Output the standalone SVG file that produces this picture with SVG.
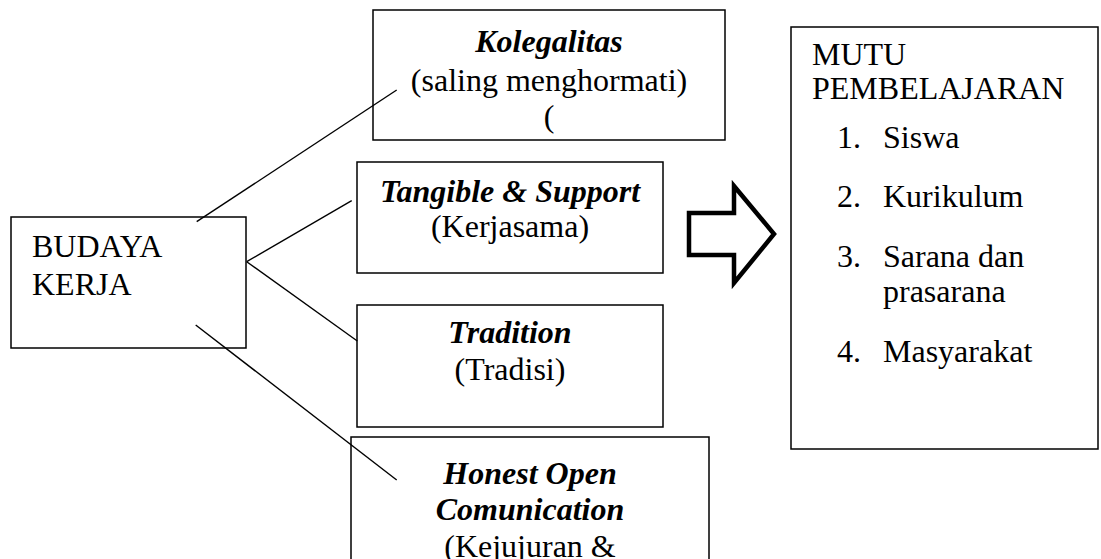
<svg xmlns="http://www.w3.org/2000/svg" width="1101" height="559" viewBox="0 0 1101 559">
<style>
.box{fill:#fff;stroke:#000;stroke-width:1.5}
.t{font-family:"Liberation Serif","Times New Roman",serif;font-size:32px;fill:#000}
.c{text-anchor:middle}
.bi{font-weight:bold;font-style:italic}
.ln{stroke:#000;stroke-width:1.4;fill:none}
</style>
<rect width="1101" height="559" fill="#fff"/>
<g id="budaya">
<rect class="box" x="11" y="217" width="235" height="131"/>
<text class="t" x="32" y="257">BUDAYA</text>
<text class="t" x="32" y="295">KERJA</text>
</g>
<g id="kolegalitas">
<rect class="box" x="373" y="10" width="352" height="130"/>
<text class="t c bi" x="549" y="52">Kolegalitas</text>
<text class="t c" x="549" y="91">(saling menghormati)</text>
<text class="t c" x="549" y="127">(</text>
</g>
<g id="tangible">
<rect class="box" x="357" y="162" width="306" height="111"/>
<text class="t c bi" x="510" y="202">Tangible &amp; Support</text>
<text class="t c" x="510" y="237">(Kerjasama)</text>
</g>
<g id="tradition">
<rect class="box" x="357" y="305" width="306" height="122"/>
<text class="t c bi" x="510" y="343">Tradition</text>
<text class="t c" x="510" y="380">(Tradisi)</text>
</g>
<g id="honest">
<rect class="box" x="351" y="437" width="358" height="180"/>
<text class="t c bi" x="530" y="484">Honest Open</text>
<text class="t c bi" x="530" y="520">Comunication</text>
<text class="t c" x="530" y="557">(Kejujuran &amp;</text>
</g>
<g id="mutu">
<rect class="box" x="791" y="27" width="307" height="422"/>
<text class="t" x="812" y="65">MUTU</text>
<text class="t" x="812" y="99">PEMBELAJARAN</text>
<text class="t" x="837" y="148">1.</text><text class="t" x="883" y="148">Siswa</text>
<text class="t" x="837" y="207">2.</text><text class="t" x="883" y="207">Kurikulum</text>
<text class="t" x="837" y="267">3.</text><text class="t" x="883" y="267">Sarana dan</text>
<text class="t" x="883" y="302">prasarana</text>
<text class="t" x="837" y="362">4.</text><text class="t" x="883" y="362">Masyarakat</text>
</g>
<g id="arrow">
<polygon points="689,213 734,213 734,186 774,234 734,283 734,255 689,255" fill="#fff" stroke="#000" stroke-width="4.5" stroke-linejoin="miter"/>
</g>
<g id="connectors">
<line class="ln" x1="196.7" y1="221.7" x2="396.7" y2="90"/>
<line class="ln" x1="246.7" y1="261.7" x2="351.7" y2="200.7"/>
<line class="ln" x1="246.7" y1="261.7" x2="357.3" y2="341"/>
<line class="ln" x1="195.7" y1="325" x2="396.7" y2="480"/>
</g>
</svg>
